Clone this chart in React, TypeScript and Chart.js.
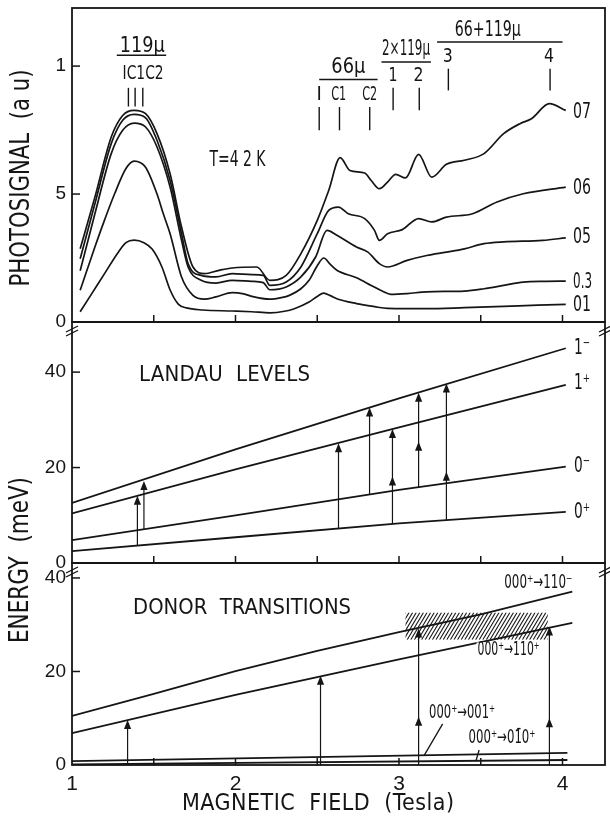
import React, { useEffect, useRef } from "react";
import { Chart, registerables } from "chart.js";

Chart.register(...registerables);

const INK = "#151515";
const SANS = "'Liberation Sans', Arial, sans-serif";
const NARROW = "'Liberation Sans Narrow', 'Arial Narrow', 'DejaVu Sans Condensed', 'Liberation Sans', sans-serif";

// ---------- axes ----------
const FIELD_MIN = 1;
const FIELD_MAX = 4.26;
const FIELD_LABELS = [1, 2, 3, 4];
const FIELD_MINOR = [1.5, 2, 2.5, 3, 3.5, 4];
const PHOTO_MAX = 1.227;
const PHOTO_TICKS = [0, 0.5, 1];
const PHOTO_TICK_TEXT = ["0", "5", "1"];
const LANDAU_MAX = 50.5;
const DONOR_MAX = 43.2;
const ENERGY_TICKS = [0, 20, 40];

// ---------- photosignal curves [field (T), signal (a.u.)] ----------
const SIG_07 = [[1.05,0.286],[1.14,0.488],[1.24,0.723],[1.31,0.807],[1.38,0.827],[1.45,0.814],[1.52,0.736],[1.6,0.579],[1.67,0.371],[1.74,0.215],[1.81,0.189],[1.9,0.202],[1.98,0.211],[2.13,0.215],[2.21,0.163],[2.31,0.182],[2.4,0.267],[2.5,0.397],[2.57,0.514],[2.64,0.642],[2.7,0.592],[2.79,0.582],[2.83,0.553],[2.88,0.521],[2.93,0.547],[2.98,0.577],[3.04,0.563],[3.12,0.655],[3.2,0.566],[3.29,0.616],[3.4,0.632],[3.52,0.658],[3.64,0.736],[3.74,0.775],[3.81,0.794],[3.92,0.853],[4.02,0.827]];
const SIG_06 = [[1.05,0.247],[1.14,0.462],[1.24,0.697],[1.31,0.788],[1.38,0.811],[1.45,0.798],[1.52,0.71],[1.6,0.553],[1.67,0.345],[1.71,0.228],[1.79,0.182],[1.88,0.176],[1.98,0.189],[2.1,0.185],[2.17,0.182],[2.21,0.143],[2.31,0.156],[2.4,0.215],[2.5,0.345],[2.57,0.436],[2.63,0.449],[2.69,0.423],[2.79,0.404],[2.85,0.358],[2.88,0.319],[2.93,0.345],[3.02,0.361],[3.12,0.404],[3.2,0.391],[3.29,0.41],[3.45,0.423],[3.6,0.469],[3.76,0.501],[4.02,0.527]];
const SIG_05 = [[1.05,0.2],[1.14,0.423],[1.24,0.658],[1.31,0.749],[1.38,0.777],[1.45,0.762],[1.52,0.684],[1.6,0.527],[1.67,0.319],[1.71,0.215],[1.79,0.163],[1.88,0.152],[1.98,0.163],[2.1,0.159],[2.17,0.154],[2.21,0.126],[2.31,0.137],[2.4,0.176],[2.49,0.254],[2.56,0.358],[2.62,0.339],[2.74,0.293],[2.81,0.273],[2.88,0.228],[2.93,0.215],[3.05,0.241],[3.17,0.26],[3.29,0.273],[3.4,0.286],[3.52,0.306],[3.64,0.313],[3.88,0.319],[4.02,0.329]];
const SIG_03 = [[1.05,0.124],[1.14,0.293],[1.2,0.4],[1.26,0.5],[1.33,0.6],[1.38,0.629],[1.45,0.605],[1.52,0.5],[1.56,0.42],[1.6,0.345],[1.67,0.176],[1.74,0.104],[1.81,0.089],[1.88,0.098],[1.98,0.115],[2.05,0.11],[2.1,0.1],[2.21,0.089],[2.28,0.095],[2.33,0.104],[2.4,0.13],[2.45,0.163],[2.5,0.22],[2.54,0.25],[2.58,0.225],[2.62,0.202],[2.74,0.173],[2.83,0.143],[2.9,0.12],[2.95,0.108],[3.05,0.111],[3.17,0.118],[3.4,0.121],[3.52,0.13],[3.64,0.143],[3.76,0.156],[3.9,0.159],[4.02,0.16]];
const SIG_01 = [[1.05,0.04],[1.12,0.11],[1.2,0.19],[1.28,0.27],[1.33,0.31],[1.38,0.32],[1.44,0.31],[1.49,0.285],[1.55,0.215],[1.6,0.125],[1.65,0.07],[1.7,0.055],[1.8,0.047],[1.98,0.043],[2.1,0.04],[2.21,0.036],[2.3,0.042],[2.36,0.052],[2.45,0.078],[2.5,0.1],[2.54,0.113],[2.58,0.103],[2.62,0.091],[2.74,0.072],[2.85,0.06],[2.93,0.053],[3.05,0.052],[3.17,0.052],[3.4,0.056],[3.64,0.061],[3.85,0.066],[4.02,0.069]];
const SIG_LABELS = ["07", "06", "05", "0.3", "01"];
const SIG_LABEL_Y = [0.82, 0.521, 0.329, 0.156, 0.065];
const SIG_LABEL_X = 4.065;

// ---------- photosignal annotations ----------
const GROUP_TITLES = ["119µ", "66µ", "2×119µ", "66+119µ"];
const GROUP_TITLE_X = [1.429, 2.69, 3.043, 3.543];
const GROUP_TITLE_Y = [1.077, 0.996, 1.064, 1.139];
const GROUP_TITLE_W = [45, 34, 48, 66];
const GROUP_BAR_FROM = [1.274, 2.512, 2.893, 3.233];
const GROUP_BAR_TO = [1.576, 2.869, 3.195, 4.0];
const GROUP_BAR_Y = [1.042, 0.948, 1.016, 1.094];
const MARK_X = [1.345, 1.386, 1.433, 2.512, 2.636, 2.821, 2.964, 3.124, 3.302, 3.924];
const MARK_TOP = [0.915, 0.915, 0.915, 0.84, 0.84, 0.84, 0.915, 0.915, 0.99, 0.99];
const MARK_BOTTOM = [0.842, 0.842, 0.842, 0.749, 0.749, 0.749, 0.827, 0.827, 0.905, 0.905];
const MARK_LABELS = ["IC1C2", "I", "C1", "C2", "1", "2", "3", "4"];
const MARK_LABEL_X = [1.435, 2.512, 2.631, 2.821, 2.964, 3.119, 3.298, 3.917];
const MARK_LABEL_Y = [0.97, 0.889, 0.889, 0.889, 0.964, 0.964, 1.035, 1.035];
const MARK_LABEL_W = [41, 0, 15, 15, 9, 10, 10, 10];
const TEMP_TEXT = "T=4 2 K";
const TEMP_X = 2.012;
const TEMP_Y = 0.632;

// ---------- Landau levels [field, meV] ----------
const LEVEL_1M = [[1, 12.6], [2, 23.8], [3, 34.5], [4.02, 45.0]];
const LEVEL_1P = [[1, 10.4], [2, 19.6], [3, 28.4], [4.02, 37.3]];
const LEVEL_0M = [[1, 4.8], [2, 10.0], [3, 15.3], [4.02, 20.2]];
const LEVEL_0P = [[1, 2.5], [2, 5.4], [3, 8.3], [4.02, 10.7]];
const LEVEL_LABELS = ["1⁻", "1⁺", "0⁻", "0⁺"];
const LEVEL_LABEL_Y = [45.0, 37.6, 20.2, 10.5];
const LANDAU_ARROW_X = [1.40, 1.44, 2.63, 2.82, 2.96, 3.12, 3.29];
const LANDAU_ARROW_FROM = [3.6, 7.1, 7.2, 14.4, 8.2, 15.8, 8.9];
const LANDAU_ARROW_TO = [14.1, 17.2, 25.1, 32.6, 28.1, 35.7, 37.6];
const LANDAU_MID_X = [2.96, 3.12, 3.29];
const LANDAU_MID_E = [18.1, 25.4, 19.1];

// ---------- donor transitions [field, meV] ----------
const DONOR_110M = [[1, 10.5], [1.5, 15.2], [2, 20.1], [2.5, 24.4], [3, 28.4], [3.5, 32.2], [4.06, 37.1]];
const DONOR_110P = [[1, 6.8], [2, 15.0], [3, 22.6], [4.06, 30.4]];
const DONOR_001P = [[1, 0.85], [4.03, 2.6]];
const DONOR_010P = [[1, 0.15], [4.03, 1.07]];
const DONOR_LABELS = ["000⁺→110⁻", "000⁺→110⁺", "000⁺→001⁺", "000⁺→01̄0⁺"];
const DONOR_LABEL_X = [3.852, 3.67, 3.386, 3.63];
const DONOR_LABEL_Y = [38.9, 24.5, 11.1, 5.7];
const DONOR_LABEL_W = [68, 62, 66, 67];
const LEADER_X = [[3.267, 3.155], [3.49, 3.47]];
const LEADER_E = [[8.8, 2.1], [3.2, 0.8]];
const DONOR_ARROW_X = [1.34, 2.52, 3.12, 3.92];
const DONOR_ARROW_TO = [9.6, 19.1, 29.2, 29.6];
const DONOR_MID_X = [3.12, 3.92];
const DONOR_MID_E = [10.3, 10.0];
const HATCH_X = [3.04, 3.91];
const HATCH_E = [26.8, 32.6];

// ---------- helpers ----------
function fitText(ctx: CanvasRenderingContext2D, text: string, x: number, y: number, font: string, target?: number, align: "center" | "left" = "center") {
  ctx.save();
  ctx.font = font;
  (ctx as any).letterSpacing = "0px";
  ctx.textBaseline = "middle";
  ctx.textAlign = "left";
  const w = ctx.measureText(text).width;
  let sx = 1;
  let ls = 0;
  if (target) {
    if (w > target) sx = target / w;
    else {
      const n = Array.from(text).length;
      ls = n > 1 ? (target - w) / (n - 1) : 0;
    }
  }
  const total = target || w;
  const x0 = align === "center" ? x - total / 2 : x;
  ctx.translate(x0, y);
  ctx.scale(sx, 1);
  if (ls) (ctx as any).letterSpacing = ls + "px";
  ctx.fillText(text, 0, 0);
  ctx.restore();
}

const pts = (arr: number[][]) => arr.map(([x, y]) => ({ x, y }));

function lineSet(data: number[][], yAxisID: string, extra: any = {}) {
  return {
    data: pts(data),
    xAxisID: "x",
    yAxisID,
    borderColor: INK,
    borderWidth: 1.6,
    pointRadius: 0,
    pointHoverRadius: 0,
    fill: false,
    tension: 0,
    ...extra,
  };
}

const decorations = {
  id: "decorations",
  afterDraw(chart: any) {
    const { ctx, chartArea } = chart;
    const xs = chart.scales.x;
    const yt = chart.scales.yTop;
    const ym = chart.scales.yMid;
    const yb = chart.scales.yBot;
    const X = (v: number) => xs.getPixelForValue(v);
    const L = chartArea.left;
    const R = chartArea.right;
    ctx.save();
    ctx.strokeStyle = INK;
    ctx.fillStyle = INK;
    const seg = (x1: number, y1: number, x2: number, y2: number, w = 1.4) => {
      ctx.lineWidth = w;
      ctx.beginPath();
      ctx.moveTo(x1, y1);
      ctx.lineTo(x2, y2);
      ctx.stroke();
    };
    const head = (px: number, py: number) => {
      ctx.beginPath();
      ctx.moveTo(px, py);
      ctx.lineTo(px - 3.6, py + 9);
      ctx.lineTo(px + 3.6, py + 9);
      ctx.closePath();
      ctx.fill();
    };
    const panels = [yt, ym, yb];

    // frames
    ctx.lineWidth = 1.8;
    panels.forEach((s: any) => ctx.strokeRect(L, s.top, R - L, s.bottom - s.top));
    // inward field ticks
    panels.forEach((s: any) => FIELD_MINOR.forEach((v) => seg(X(v), s.bottom, X(v), s.bottom - 7, 1.5)));
    // inward value ticks
    PHOTO_TICKS.slice(1).forEach((v) => seg(L, yt.getPixelForValue(v), L + 8, yt.getPixelForValue(v), 1.5));
    [ym, yb].forEach((s: any) => ENERGY_TICKS.slice(1).forEach((v) => seg(L, s.getPixelForValue(v), L + 8, s.getPixelForValue(v), 1.5)));
    // axis break marks
    [yt.bottom, ym.bottom].forEach((y: number) =>
      [L, R].forEach((x: number) => {
        seg(x - 6, y + 10, x + 6, y + 4, 1.3);
        seg(x - 6, y + 14, x + 6, y + 8, 1.3);
      })
    );

    // ---- photosignal annotations
    GROUP_TITLES.forEach((t, i) => {
      fitText(ctx, t, X(GROUP_TITLE_X[i]), yt.getPixelForValue(GROUP_TITLE_Y[i]), `21px ${NARROW}`, GROUP_TITLE_W[i]);
      const yb2 = yt.getPixelForValue(GROUP_BAR_Y[i]);
      seg(X(GROUP_BAR_FROM[i]), yb2, X(GROUP_BAR_TO[i]), yb2, 1.5);
    });
    MARK_X.forEach((v, i) => seg(X(v), yt.getPixelForValue(MARK_TOP[i]), X(v), yt.getPixelForValue(MARK_BOTTOM[i]), 1.4));
    MARK_LABELS.forEach((t, i) => {
      fitText(ctx, t, X(MARK_LABEL_X[i]), yt.getPixelForValue(MARK_LABEL_Y[i]), `20px ${NARROW}`, MARK_LABEL_W[i] || undefined);
    });
    fitText(ctx, TEMP_TEXT, X(TEMP_X), yt.getPixelForValue(TEMP_Y), `21px ${NARROW}`, 56);
    SIG_LABELS.forEach((t, i) => {
      fitText(ctx, t, X(SIG_LABEL_X), yt.getPixelForValue(SIG_LABEL_Y[i]), `21px ${NARROW}`, t === "0.3" ? 19 : 18, "left");
    });

    // ---- Landau panel
    fitText(ctx, "LANDAU  LEVELS", X(1.933), ym.getPixelForValue(39.4), `22px ${NARROW}`, 171);
    LEVEL_LABELS.forEach((t, i) => {
      fitText(ctx, t, X(4.07), ym.getPixelForValue(LEVEL_LABEL_Y[i]), `21px ${NARROW}`, 16, "left");
    });
    LANDAU_ARROW_X.forEach((v, i) => head(X(v), ym.getPixelForValue(LANDAU_ARROW_TO[i])));
    LANDAU_MID_X.forEach((v, i) => head(X(v), ym.getPixelForValue(LANDAU_MID_E[i])));

    // ---- donor panel
    fitText(ctx, "DONOR  TRANSITIONS", X(2.04), yb.getPixelForValue(33.5), `22px ${NARROW}`, 218);
    DONOR_ARROW_X.forEach((v, i) => head(X(v), yb.getPixelForValue(DONOR_ARROW_TO[i])));
    DONOR_MID_X.forEach((v, i) => head(X(v), yb.getPixelForValue(DONOR_MID_E[i])));
    LEADER_X.forEach((xx, i) => seg(X(xx[0]), yb.getPixelForValue(LEADER_E[i][0]), X(xx[1]), yb.getPixelForValue(LEADER_E[i][1]), 1.3));
    // hatched band
    {
      const hx0 = X(HATCH_X[0]);
      const hx1 = X(HATCH_X[1]);
      const hy0 = yb.getPixelForValue(HATCH_E[1]);
      const hy1 = yb.getPixelForValue(HATCH_E[0]);
      const h = hy1 - hy0;
      ctx.save();
      ctx.beginPath();
      ctx.rect(hx0, hy0, hx1 - hx0, h);
      ctx.clip();
      ctx.lineWidth = 1.1;
      for (let d = -h; d < hx1 - hx0 + h; d += 3.6) {
        ctx.beginPath();
        ctx.moveTo(hx0 + d, hy1);
        ctx.lineTo(hx0 + d + h * 0.6, hy0);
        ctx.stroke();
      }
      ctx.restore();
    }
    DONOR_LABELS.forEach((t, i) => {
      const px = X(DONOR_LABEL_X[i]);
      const py = yb.getPixelForValue(DONOR_LABEL_Y[i]);
      if (i === 1) {
        ctx.save();
        ctx.fillStyle = "#fff";
        ctx.fillRect(px - DONOR_LABEL_W[i] / 2 - 1, py - 8, DONOR_LABEL_W[i] + 2, 16);
        ctx.restore();
      }
      fitText(ctx, t, px, py, `19px ${NARROW}`, DONOR_LABEL_W[i]);
    });

    // ---- axis titles
    fitText(ctx, "MAGNETIC  FIELD  (Tesla)", 318, 804, `23px ${NARROW}`, 272);
    ctx.save();
    ctx.translate(22, 178);
    ctx.rotate(-Math.PI / 2);
    fitText(ctx, "PHOTOSIGNAL  (a u)", 0, 0, `26px ${NARROW}`, 217);
    ctx.restore();
    ctx.save();
    ctx.translate(21, 560);
    ctx.rotate(-Math.PI / 2);
    fitText(ctx, "ENERGY  (meV)", 0, 0, `26px ${NARROW}`, 166);
    ctx.restore();

    ctx.restore();
  },
};

function yAxis(max: number, weight: number, ticks: number[], texts?: string[]) {
  return {
    type: "linear",
    position: "left",
    stack: "panels",
    stackWeight: weight,
    min: 0,
    max,
    grid: { display: false, drawTicks: false },
    border: { display: false },
    ticks: {
      color: INK,
      padding: 6,
      font: { family: SANS, size: 19 },
      callback: (v: number) => (texts ? texts[ticks.indexOf(v)] : String(v)),
    },
    afterBuildTicks: (s: any) => {
      s.ticks = ticks.map((v) => ({ value: v }));
    },
    afterFit: (s: any) => {
      s.width = 72;
      s.paddingTop = 0;
      s.paddingBottom = 0;
    },
  };
}

export default function App() {
  const ref = useRef<HTMLCanvasElement>(null);
  useEffect(() => {
    const canvas = ref.current;
    if (!canvas) return;
    const sigSets = [SIG_07, SIG_06, SIG_05, SIG_03, SIG_01].map((d) =>
      lineSet(d, "yTop", { cubicInterpolationMode: "monotone", borderWidth: 1.7 })
    );
    const levelSets = [LEVEL_1M, LEVEL_1P, LEVEL_0M, LEVEL_0P].map((d) => lineSet(d, "yMid", { borderWidth: 1.8 }));
    const landauArrows = LANDAU_ARROW_X.map((v, i) =>
      lineSet([[v, LANDAU_ARROW_FROM[i]], [v, LANDAU_ARROW_TO[i] - 1]], "yMid", { borderWidth: 1.2 })
    );
    const donorSets = [DONOR_110M, DONOR_110P, DONOR_001P, DONOR_010P].map((d) => lineSet(d, "yBot", { borderWidth: 1.8 }));
    const donorArrows = DONOR_ARROW_X.map((v, i) =>
      lineSet([[v, 0], [v, DONOR_ARROW_TO[i] - 1]], "yBot", { borderWidth: 1.2 })
    );

    const chart = new Chart(canvas, {
      type: "line",
      data: { datasets: [...sigSets, ...levelSets, ...landauArrows, ...donorSets, ...donorArrows] as any },
      options: {
        responsive: false,
        animation: false,
        events: [],
        layout: { padding: { top: 8, right: 5, bottom: 0, left: 0 } },
        plugins: { legend: { display: false }, tooltip: { enabled: false }, title: { display: false } },
        scales: {
          x: {
            type: "linear",
            position: "bottom",
            min: FIELD_MIN,
            max: FIELD_MAX,
            grid: { display: false, drawTicks: false },
            border: { display: false },
            ticks: {
              color: INK,
              padding: 7,
              font: { family: SANS, size: 21 },
              callback: (v: number) => String(v),
            },
            afterBuildTicks: (s: any) => {
              s.ticks = FIELD_LABELS.map((v) => ({ value: v }));
            },
            afterFit: (s: any) => {
              s.height = 55;
              s.paddingLeft = 0;
              s.paddingRight = 0;
            },
          },
          yBot: yAxis(DONOR_MAX, 202, ENERGY_TICKS),
          yMid: yAxis(LANDAU_MAX, 241, ENERGY_TICKS),
          yTop: yAxis(PHOTO_MAX, 314, PHOTO_TICKS, PHOTO_TICK_TEXT),
        } as any,
      },
      plugins: [decorations],
    });
    return () => chart.destroy();
  }, []);

  return (
    <div style={{ position: "absolute", left: 0, top: 0, width: 610, height: 820, background: "#fff" }}>
      <canvas ref={ref} width={610} height={820} style={{ display: "block", width: 610, height: 820 }} />
    </div>
  );
}
